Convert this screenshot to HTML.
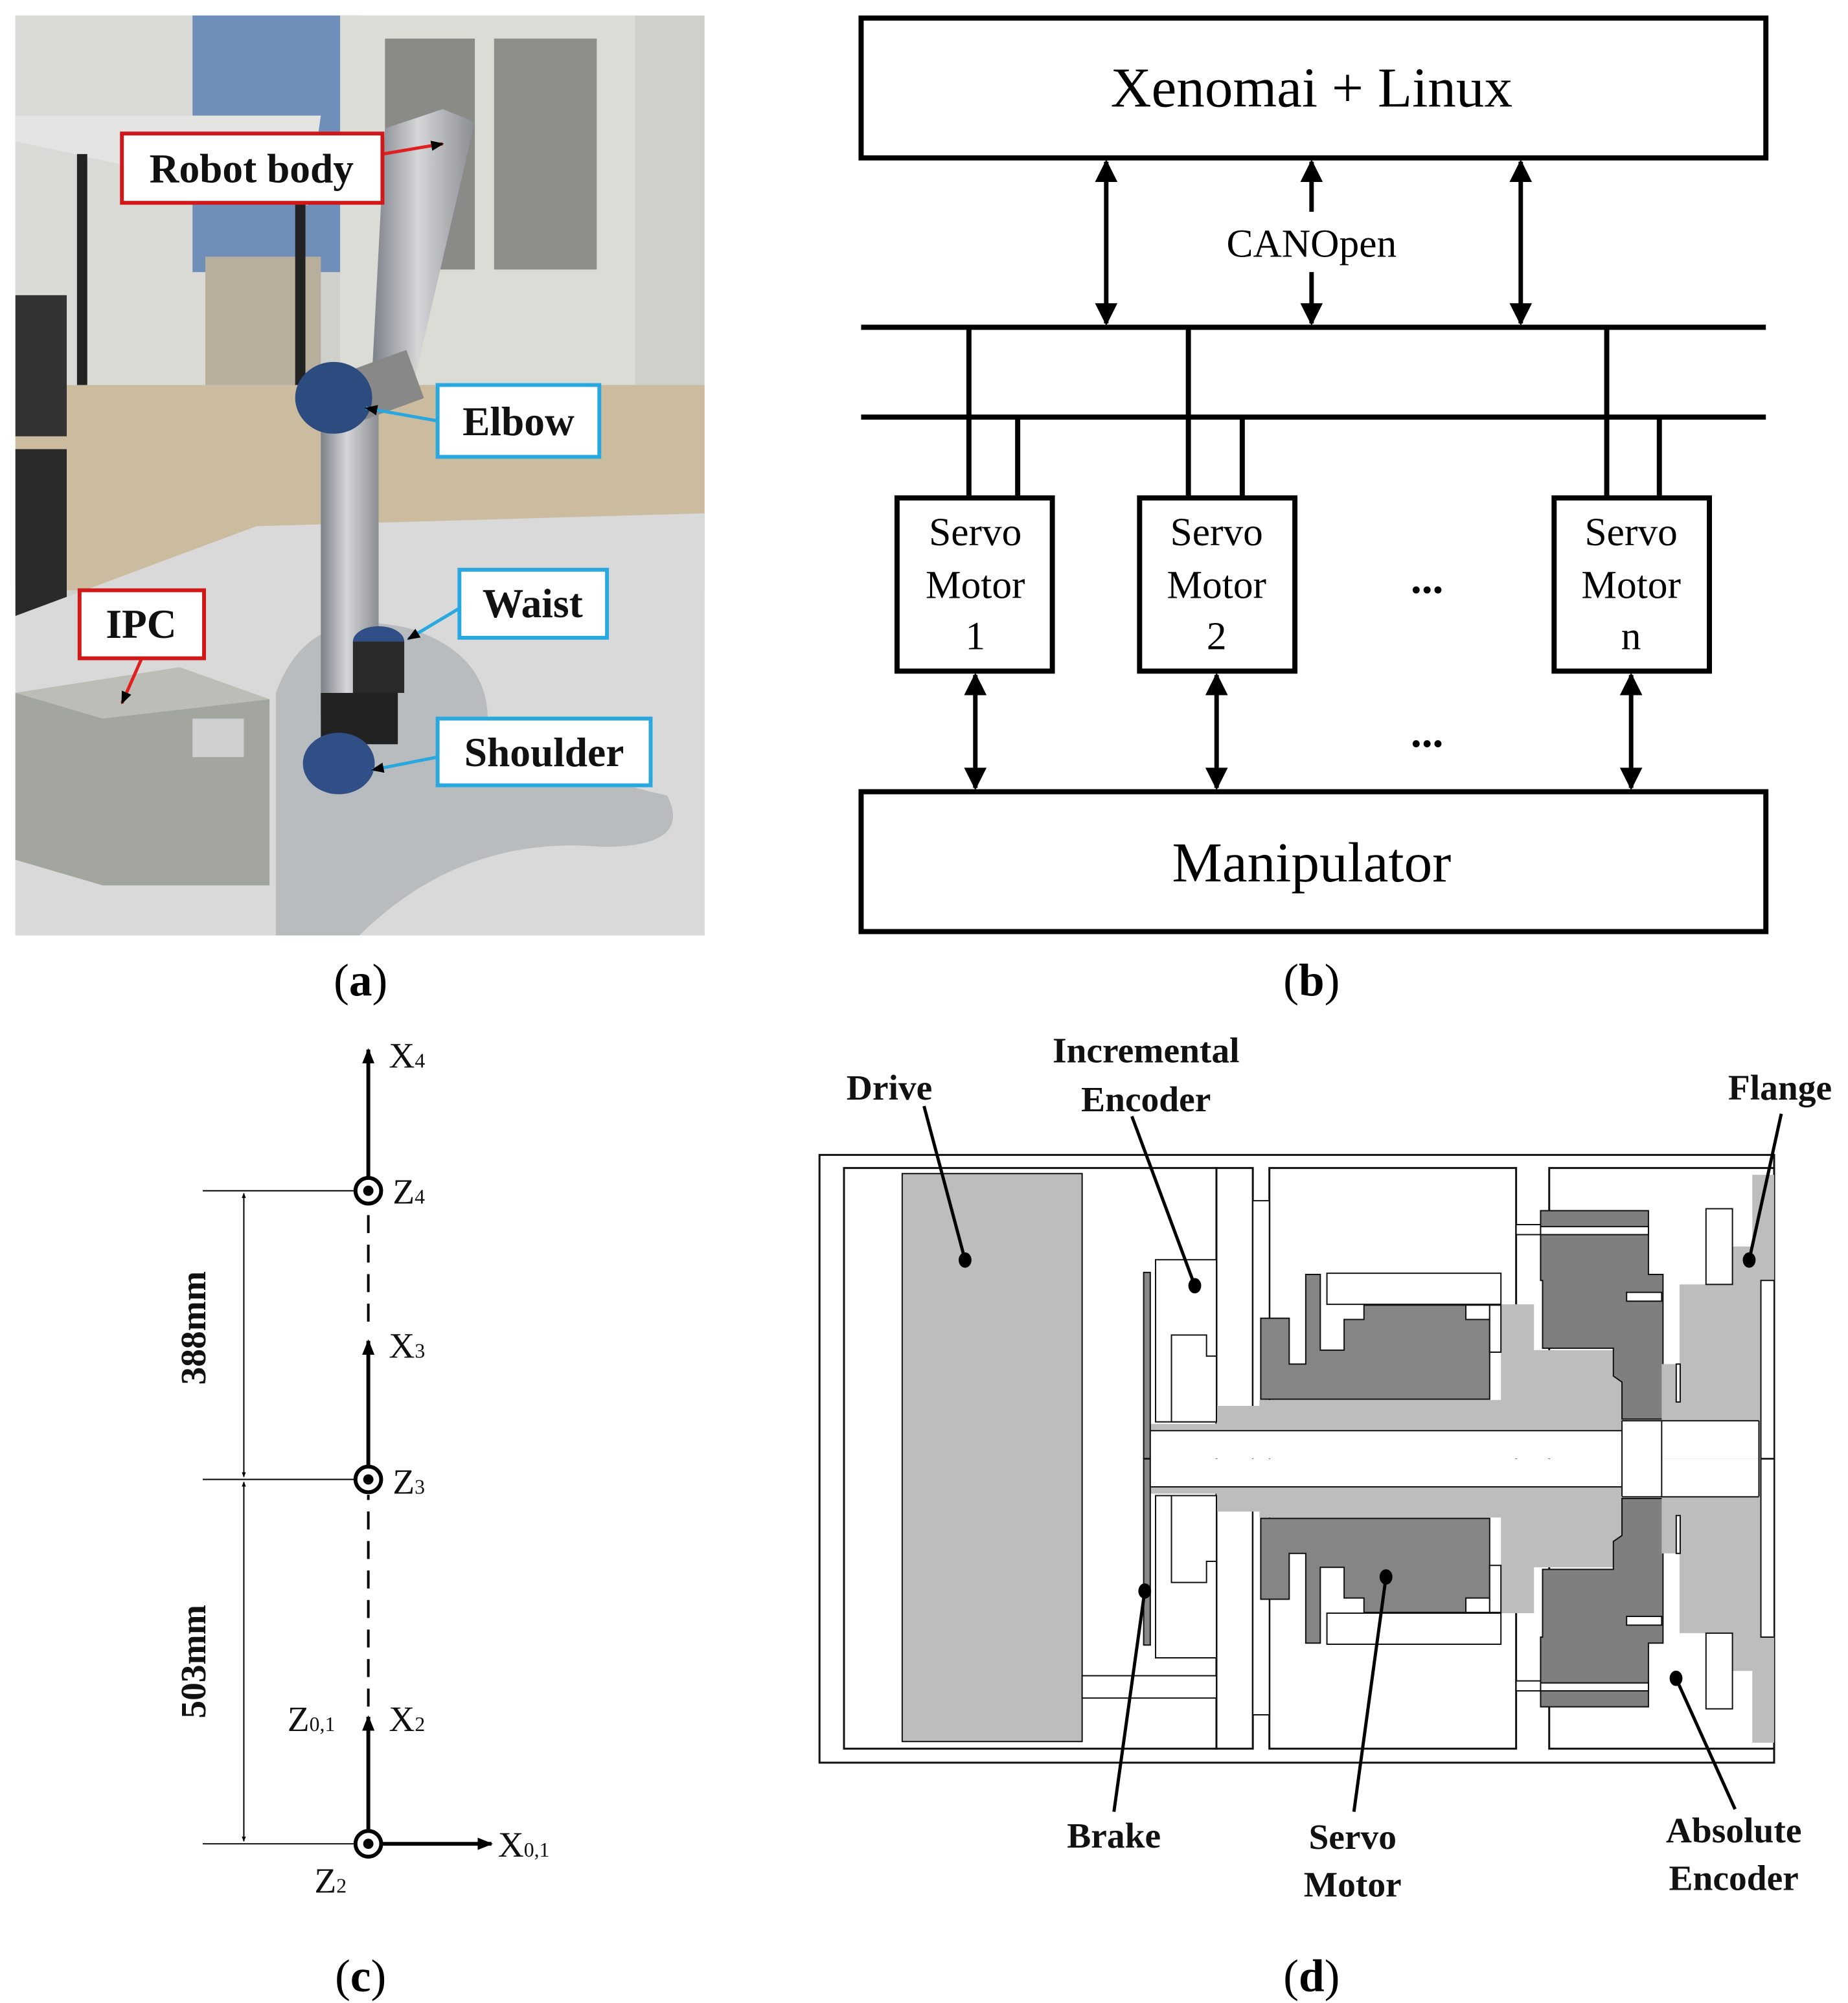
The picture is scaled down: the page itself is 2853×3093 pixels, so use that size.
<!DOCTYPE html>
<html><head><meta charset="utf-8"><style>
html,body{margin:0;padding:0;background:#fff}
svg{display:block}
.s{font-family:"Liberation Serif",serif}
</style></head><body>
<svg width="2853" height="3093" viewBox="0 0 1440 1561" xmlns="http://www.w3.org/2000/svg">
<defs>
<marker id="ah" viewBox="0 0 10 10" refX="9" refY="5" markerWidth="5" markerHeight="5" orient="auto-start-reverse"><path d="M0,0 L10,5 L0,10 z" fill="#000"/></marker>
<marker id="as" viewBox="0 0 10 10" refX="9" refY="5" markerWidth="4" markerHeight="4" orient="auto-start-reverse"><path d="M0,1 L10,5 L0,9 z" fill="#000"/></marker>
<linearGradient id="tube" x1="0" x2="1"><stop offset="0" stop-color="#7c8088"/><stop offset=".45" stop-color="#d4d6d8"/><stop offset="1" stop-color="#8a8d92"/></linearGradient>
</defs>

<!-- (a) photo -->
<g>
<rect x="12" y="12" width="537" height="717" fill="#cfcfcb"/>
<rect x="12" y="12" width="150" height="300" fill="#d9d9d5"/>
<rect x="150" y="12" width="130" height="200" fill="#6f8fb8"/>
<rect x="265" y="12" width="230" height="420" fill="#dcdcd6"/>
<rect x="300" y="30" width="70" height="180" fill="#8a8a86"/>
<rect x="385" y="30" width="80" height="180" fill="#8d8d8a"/>
<polygon points="12,90 250,90 240,160 12,110" fill="#e4e4e2"/>
<rect x="160" y="200" width="90" height="110" fill="#b8ae9c"/>
<rect x="60" y="120" width="8" height="180" fill="#222"/>
<rect x="230" y="120" width="8" height="190" fill="#222"/>
<polygon points="12,300 549,300 549,460 12,460" fill="#cbbc9f"/>
<rect x="12" y="230" width="40" height="110" fill="#333"/>
<rect x="12" y="350" width="40" height="130" fill="#2a2a2a"/>
<polygon points="12,480 200,410 549,400 549,729 12,729" fill="#d8d9d8"/>
<path d="M215,540 Q240,470 320,490 Q380,510 380,560 Q430,600 520,620 Q540,660 470,660 Q360,650 280,729 L215,729 Z" fill="#b9bcbf"/>
<polygon points="12,540 140,520 210,545 210,690 80,690 12,670" fill="#a3a69e"/>
<polygon points="12,540 140,520 210,545 80,560" fill="#bcbdb6"/>
<rect x="150" y="560" width="40" height="30" fill="#d0d0d0"/>
<!-- arm -->
<polygon points="300,100 345,85 370,95 322,300 290,290" fill="url(#tube)"/>
<rect x="250" y="320" width="45" height="240" fill="url(#tube)"/>
<rect x="275" y="280" width="50" height="40" fill="#888" transform="rotate(-20 300 300)"/>
<rect x="250" y="540" width="60" height="40" fill="#222"/>
<ellipse cx="260" cy="310" rx="30" ry="28" fill="#2c4c80"/>
<ellipse cx="264" cy="595" rx="28" ry="24" fill="#2f4f86"/>
<ellipse cx="295" cy="500" rx="20" ry="12" fill="#2f4f86"/>
<rect x="275" y="500" width="40" height="40" fill="#2a2a2a"/>
<!-- labels -->
<g fill="none" stroke-width="2.5">
<path d="M298,120 L345,112" stroke="#e02020" marker-end="url(#as)"/>
<path d="M110,514 L95,548" stroke="#e02020" marker-end="url(#as)"/>
<path d="M341,328 L285,318" stroke="#29a8e0" marker-end="url(#as)"/>
<path d="M358,474 L318,498" stroke="#29a8e0" marker-end="url(#as)"/>
<path d="M341,590 L290,600" stroke="#29a8e0" marker-end="url(#as)"/>
</g>
<g stroke-width="3" fill="#fff">
<rect x="95" y="104" width="203" height="54" stroke="#d01818"/>
<rect x="62" y="460" width="97" height="53" stroke="#d01818"/>
<rect x="341" y="300" width="126" height="56" stroke="#29a8e0"/>
<rect x="358" y="444" width="115" height="53" stroke="#29a8e0"/>
<rect x="341" y="560" width="166" height="52" stroke="#29a8e0"/>
</g>
<g class="s" font-weight="bold" font-size="32" text-anchor="middle" fill="#111">
<text x="196" y="142">Robot body</text>
<text x="110" y="497">IPC</text>
<text x="404" y="339">Elbow</text>
<text x="415" y="481">Waist</text>
<text x="424" y="597">Shoulder</text>
</g>
</g>

<!-- (b) -->
<g stroke="#000" fill="none" stroke-width="4">
<rect x="671" y="14" width="705" height="109"/>
<rect x="671" y="617" width="705" height="109"/>
<line x1="671" y1="255" x2="1376" y2="255"/>
<line x1="671" y1="325" x2="1376" y2="325"/>
<rect x="699" y="388" width="121" height="135"/>
<rect x="888" y="388" width="121" height="135"/>
<rect x="1211" y="388" width="121" height="135"/>
<line x1="755" y1="255" x2="755" y2="388"/><line x1="793" y1="325" x2="793" y2="388"/>
<line x1="926" y1="255" x2="926" y2="388"/><line x1="968" y1="325" x2="968" y2="388"/>
<line x1="1252" y1="255" x2="1252" y2="388"/><line x1="1293" y1="325" x2="1293" y2="388"/>
</g>
<g stroke="#000" stroke-width="3.5" fill="none">
<line x1="862" y1="126" x2="862" y2="252" marker-start="url(#ah)" marker-end="url(#ah)"/>
<line x1="1185" y1="126" x2="1185" y2="252" marker-start="url(#ah)" marker-end="url(#ah)"/>
<line x1="1022" y1="165" x2="1022" y2="126" marker-end="url(#ah)"/>
<line x1="1022" y1="212" x2="1022" y2="252" marker-end="url(#ah)"/>
<line x1="760" y1="526" x2="760" y2="614" marker-start="url(#ah)" marker-end="url(#ah)"/>
<line x1="948" y1="526" x2="948" y2="614" marker-start="url(#ah)" marker-end="url(#ah)"/>
<line x1="1271" y1="526" x2="1271" y2="614" marker-start="url(#ah)" marker-end="url(#ah)"/>
</g>
<g class="s" text-anchor="middle" fill="#000">
<text x="1022" y="83" font-size="44">Xenomai  +  Linux</text>
<text x="1022" y="687" font-size="44">Manipulator</text>
<text x="1022" y="200" font-size="31">CANOpen</text>
<g font-size="31">
<text x="760" y="425">Servo</text><text x="760" y="466">Motor</text><text x="760" y="506">1</text>
<text x="948" y="425">Servo</text><text x="948" y="466">Motor</text><text x="948" y="506">2</text>
<text x="1271" y="425">Servo</text><text x="1271" y="466">Motor</text><text x="1271" y="506">n</text>
</g>
<text x="1112" y="462" font-size="34" font-weight="bold">...</text>
<text x="1112" y="582" font-size="34" font-weight="bold">...</text>
</g>

<!-- captions -->
<g class="s" font-size="36" text-anchor="middle">
<text x="281" y="776">(<tspan font-weight="bold">a</tspan>)</text>
<text x="1022" y="776">(<tspan font-weight="bold">b</tspan>)</text>
<text x="281" y="1552">(<tspan font-weight="bold">c</tspan>)</text>
<text x="1022" y="1552">(<tspan font-weight="bold">d</tspan>)</text>
</g>

<!-- (c) -->
<g stroke="#000" fill="none">
<line x1="158" y1="928" x2="287" y2="928" stroke-width="1"/>
<line x1="158" y1="1153" x2="287" y2="1153" stroke-width="1"/>
<line x1="158" y1="1437" x2="287" y2="1437" stroke-width="1"/>
<line x1="190" y1="930" x2="190" y2="1151" stroke-width="1" marker-start="url(#as)" marker-end="url(#as)"/>
<line x1="190" y1="1155" x2="190" y2="1435" stroke-width="1" marker-start="url(#as)" marker-end="url(#as)"/>
<line x1="287" y1="1437" x2="287" y2="1338" stroke-width="3" marker-end="url(#as)"/>
<line x1="287" y1="1330" x2="287" y2="1165" stroke-width="2" stroke-dasharray="14,9"/>
<line x1="287" y1="1153" x2="287" y2="1045" stroke-width="3" marker-end="url(#as)"/>
<line x1="287" y1="1030" x2="287" y2="940" stroke-width="2" stroke-dasharray="14,9"/>
<line x1="287" y1="928" x2="287" y2="818" stroke-width="3" marker-end="url(#as)"/>
<line x1="287" y1="1437" x2="383" y2="1437" stroke-width="3" marker-end="url(#as)"/>
<circle cx="287" cy="928" r="10" fill="#fff" stroke-width="3"/>
<circle cx="287" cy="1153" r="10" fill="#fff" stroke-width="3"/>
<circle cx="287" cy="1437" r="10" fill="#fff" stroke-width="3"/>
</g>
<circle cx="287" cy="928" r="4"/><circle cx="287" cy="1153" r="4"/><circle cx="287" cy="1437" r="4"/>
<g class="s" font-size="28" fill="#111">
<text x="303" y="832">X<tspan font-size="16">4</tspan></text>
<text x="306" y="938">Z<tspan font-size="16">4</tspan></text>
<text x="303" y="1058">X<tspan font-size="16">3</tspan></text>
<text x="306" y="1164">Z<tspan font-size="16">3</tspan></text>
<text x="303" y="1349">X<tspan font-size="16">2</tspan></text>
<text x="224" y="1349">Z<tspan font-size="16">0,1</tspan></text>
<text x="388" y="1447">X<tspan font-size="16">0,1</tspan></text>
<text x="245" y="1475">Z<tspan font-size="16">2</tspan></text>
<text transform="translate(160,1035) rotate(-90)" text-anchor="middle" font-weight="bold">388mm</text>
<text transform="translate(160,1295) rotate(-90)" text-anchor="middle" font-weight="bold">503mm</text>
</g>

<!-- (d) -->
<g transform="translate(636,898.5) scale(0.5155,0.3106)" stroke="#111" stroke-width="2" vector-effect="non-scaling-stroke">
<g vector-effect="non-scaling-stroke">
<rect x="5" y="5" width="1443" height="1525" fill="#fff" vector-effect="non-scaling-stroke" stroke-width="3"/>
<rect x="42" y="38" width="563" height="1457" fill="#fff" vector-effect="non-scaling-stroke" stroke-width="3"/>
<rect x="605" y="38" width="55" height="1457" fill="#fff" vector-effect="non-scaling-stroke" stroke-width="3"/>
<rect x="685" y="38" width="373" height="1457" fill="#fff" vector-effect="non-scaling-stroke" stroke-width="3"/>
<rect x="1108" y="38" width="340" height="1457" fill="#fff" vector-effect="non-scaling-stroke" stroke-width="3"/>
<rect x="130" y="52" width="272" height="1425" fill="#bdbdbd" vector-effect="non-scaling-stroke"/>
<rect x="660" y="120" width="25" height="1290" fill="#fff" vector-effect="non-scaling-stroke"/>
<rect x="1058" y="180" width="40" height="25" fill="#fff" vector-effect="non-scaling-stroke"/>
<rect x="1058" y="1325" width="40" height="25" fill="#fff" vector-effect="non-scaling-stroke"/>
<rect x="402" y="1312" width="203" height="56" fill="#fff" vector-effect="non-scaling-stroke"/>
</g>
<g id="half">
<polygon points="505,680 605,680 605,635 670,635 670,620 1035,620 1035,380 1085,380 1085,495 1205,495 1205,560 1218,575 1218,697 505,697" fill="#bdbdbd" stroke="none"/>
<polygon points="672,415 715,415 715,530 740,530 740,305 762,305 762,495 798,495 798,418 828,418 828,382 1018,382 1018,618 672,618" fill="#858585" vector-effect="non-scaling-stroke"/>
<rect x="772" y="302" width="263" height="78" fill="#fff" vector-effect="non-scaling-stroke"/>
<rect x="982" y="382" width="36" height="36" fill="#fff" vector-effect="non-scaling-stroke"/>
<rect x="1018" y="382" width="17" height="118" fill="#fff" vector-effect="non-scaling-stroke"/>
<polygon points="1095,145 1258,145 1258,305 1280,305 1280,668 1218,668 1218,575 1205,560 1205,490 1098,490 1098,320 1095,320" fill="#7f7f7f" vector-effect="non-scaling-stroke"/>
<rect x="1095" y="185" width="163" height="20" fill="#fff" vector-effect="non-scaling-stroke"/>
<rect x="1225" y="350" width="53" height="22" fill="#fff" vector-effect="non-scaling-stroke"/>
<polygon points="1278,530 1305,530 1305,330 1385,330 1385,235 1415,235 1415,55 1448,55 1448,767 1278,767" fill="#bdbdbd" stroke="none"/>
<rect x="1428" y="320" width="20" height="447" fill="#fff" vector-effect="non-scaling-stroke"/>
<rect x="1345" y="140" width="40" height="190" fill="#fff" vector-effect="non-scaling-stroke"/>
<rect x="1300" y="530" width="6" height="95" fill="#fff" vector-effect="non-scaling-stroke"/>
<rect x="513" y="268" width="92" height="407" fill="#fff" vector-effect="non-scaling-stroke"/>
<polygon points="537,457 590,457 590,510 605,510 605,675 537,675" fill="#fff" vector-effect="non-scaling-stroke"/>
<rect x="495" y="300" width="10" height="467" fill="#888" vector-effect="non-scaling-stroke"/>
<rect x="505" y="697" width="713" height="70" fill="#fff" stroke="none"/>
<rect x="1218" y="672" width="60" height="95" fill="#fff" stroke="none"/>
<rect x="1278" y="672" width="147" height="95" fill="#fff" stroke="none"/>
<line x1="505" y1="697" x2="1218" y2="697" vector-effect="non-scaling-stroke"/>
<line x1="1218" y1="672" x2="1425" y2="672" vector-effect="non-scaling-stroke"/>
</g>
<use href="#half" transform="translate(0,1535) scale(1,-1)"/>
<line x1="1218" y1="672" x2="1218" y2="862" vector-effect="non-scaling-stroke"/>
<line x1="1278" y1="672" x2="1278" y2="862" vector-effect="non-scaling-stroke"/>
<line x1="1425" y1="672" x2="1425" y2="862" vector-effect="non-scaling-stroke"/>
<line x1="505" y1="697" x2="505" y2="838" vector-effect="non-scaling-stroke"/>
</g>
<g stroke="#000" stroke-width="2.5">
<line x1="720" y1="862" x2="752" y2="982"/>
<line x1="882" y1="870" x2="931" y2="1002"/>
<line x1="1388" y1="868" x2="1363" y2="982"/>
<line x1="868" y1="1412" x2="892" y2="1240"/>
<line x1="1055" y1="1412" x2="1080" y2="1229"/>
<line x1="1352" y1="1410" x2="1306" y2="1308"/>
</g>
<g fill="#000">
<ellipse cx="752" cy="982" rx="5" ry="6"/><ellipse cx="931" cy="1002" rx="5" ry="6"/>
<ellipse cx="1363" cy="982" rx="5" ry="6"/><ellipse cx="892" cy="1240" rx="5" ry="6"/>
<ellipse cx="1080" cy="1229" rx="5" ry="6"/><ellipse cx="1306" cy="1308" rx="5" ry="6"/>
</g>
<g class="s" font-weight="bold" font-size="28" text-anchor="middle" fill="#111">
<text x="693" y="857">Drive</text>
<text x="893" y="828">Incremental</text>
<text x="893" y="866">Encoder</text>
<text x="1387" y="857">Flange</text>
<text x="868" y="1440">Brake</text>
<text x="1054" y="1441">Servo</text>
<text x="1054" y="1478">Motor</text>
<text x="1351" y="1436">Absolute</text>
<text x="1351" y="1473">Encoder</text>
</g>
</svg>
</body></html>
